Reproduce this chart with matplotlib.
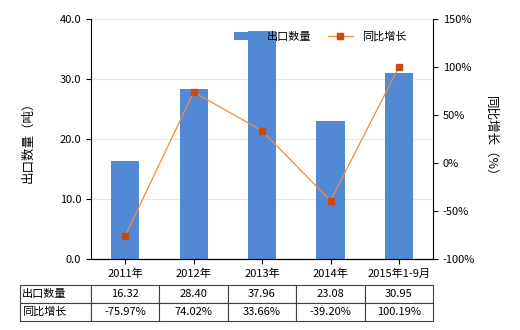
import matplotlib.pyplot as plt
import numpy as np

plt.rcParams['font.family'] = ['Noto Sans CJK SC', 'DejaVu Sans']
plt.rcParams['font.size'] = 8

years = ['2011年', '2012年', '2013年', '2014年', '2015年1-9月']
export_qty = [16.32, 28.40, 37.96, 23.08, 30.95]
yoy_growth = [-75.97, 74.02, 33.66, -39.20, 100.19]

fig = plt.figure(figsize=(5.2, 3.3), dpi=100)
ax = fig.add_axes([0.175, 0.215, 0.658, 0.727])
x = np.arange(len(years))

ax.bar(x, export_qty, width=0.41, color='#5289d4', label='出口数量', zorder=2)
ax.set_ylim(0, 40)
ax.set_yticks([0, 10, 20, 30, 40])
ax.set_yticklabels(['0.0', '10.0', '20.0', '30.0', '40.0'])
ax.set_xlim(-0.5, len(years) - 0.5)
ax.set_xticks(x)
ax.set_xticklabels(years)
ax.grid(axis='y', color='#e8e6e0', lw=0.8, zorder=0)
ax.set_ylabel('出口数量（吨）', fontsize=9, labelpad=18)
for s in ['top', 'right']:
    ax.spines[s].set_visible(False)

ax2 = ax.twinx()
ax2.plot(x, yoy_growth, color='#f08a3a', lw=0.9, marker='s', ms=4,
         mfc='#c84a10', mec='#c84a10', label='同比增长', zorder=3)
ax2.set_ylim(-100, 150)
ax2.set_yticks([-100, -50, 0, 50, 100, 150])
ax2.set_yticklabels(['-100%', '-50%', '0%', '50%', '100%', '150%'])
ax2.set_ylabel('同比增长（%）', fontsize=9, rotation=270, labelpad=16)
for s in ['top', 'left']:
    ax2.spines[s].set_visible(False)

h1, l1 = ax.get_legend_handles_labels()
h2, l2 = ax2.get_legend_handles_labels()
ax2.legend(h1 + h2, l1 + l2, loc='upper right', bbox_to_anchor=(0.95, 0.99),
           ncol=2, frameon=False, handlelength=2.2, columnspacing=1.5)

# data table under the chart
cell_text = [['出口数量'] + ['%.2f' % v for v in export_qty],
             ['同比增长'] + ['%.2f%%' % v for v in yoy_growth]]
first_w = 71 / 342
col_w = [first_w] + [1 / len(years)] * len(years)
tbl = ax.table(cellText=cell_text, colWidths=col_w, cellLoc='center',
               bbox=[-first_w, -0.258, 1 + first_w, 0.15])
tbl.auto_set_font_size(False)
for (r, c), cell in tbl.get_celld().items():
    cell.set_fontsize(8)
    cell.set_edgecolor('#404040')
    cell.set_linewidth(0.8)
    if c == 0:
        cell.set_text_props(ha='left')
        cell.PAD = 0.03

fig.savefig('out.png', dpi=100)
